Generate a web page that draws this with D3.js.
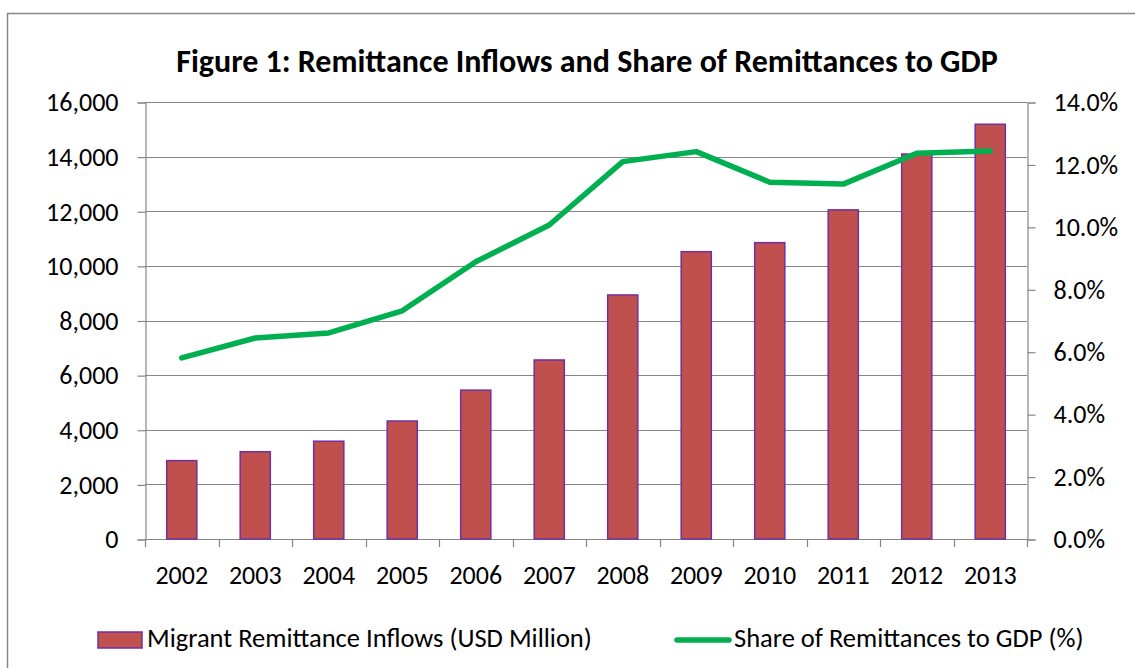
<!DOCTYPE html>
<html>
<head>
<meta charset="utf-8">
<script src="https://cdn.jsdelivr.net/npm/d3@7"></script>
<style>
  body { margin: 0; background: #fff; }
  svg text { font-family: Carlito, Calibri, Lato, sans-serif; fill: #000; }
</style>
</head>
<body>
<svg id="chart"></svg>
<script>
// chart data
const years = ["2002", "2003", "2004", "2005", "2006", "2007", "2008", "2009", "2010", "2011", "2012", "2013"];
const inflows = [2870, 3195, 3580, 4320, 5450, 6555, 8935, 10520, 10850, 12050, 14095, 15185];
const gdpShare = [5.80, 6.44, 6.60, 7.31, 8.88, 10.06, 12.09, 12.41, 11.43, 11.37, 12.36, 12.43];
const leftTicks = [0, 2000, 4000, 6000, 8000, 10000, 12000, 14000, 16000];
const rightTicks = [0, 2, 4, 6, 8, 10, 12, 14];

const title = "Figure 1: Remittance Inflows and Share of Remittances to GDP";
const barLabel = "Migrant Remittance Inflows (USD Million)";
const lineLabel = "Share of Remittances to GDP (%)";

const svgWidth = 1135, svgHeight = 668;
const plot = { left: 145, right: 1027, top: 102, bottom: 539 };
const gridColor = "#868686";
const fontFamily = "Carlito, Calibri, Lato, sans-serif";

const svg = d3.select("#chart")
    .attr("width", svgWidth)
    .attr("height", svgHeight);

// outer chart border
svg.append("rect")
    .attr("x", 7.5).attr("y", 13.5)
    .attr("width", 1200).attr("height", 700)
    .attr("fill", "#fff")
    .attr("stroke", gridColor)
    .attr("stroke-width", 1.5);

svg.append("text")
    .attr("x", 587).attr("y", 72)
    .attr("text-anchor", "middle")
    .attr("font-size", 32)
    .attr("font-weight", "bold")
    .text(title);

let x = d3.scaleBand()
    .domain(years)
    .range([plot.left, plot.right])
    .paddingInner(0.59)
    .paddingOuter(0.295);

let xCat = d3.scaleBand()
    .domain(years)
    .range([plot.left, plot.right]);

let yLeft = d3.scaleLinear()
    .domain([0, 16000])
    .range([plot.bottom, plot.top]);

let yRight = d3.scaleLinear()
    .domain([0, 14])
    .range([plot.bottom, plot.top]);

// gridlines
svg.append("g")
    .selectAll("line")
    .data(leftTicks)
    .join("line")
    .attr("x1", plot.left).attr("x2", plot.right)
    .attr("y1", d => Math.round(yLeft(d)) + 0.5)
    .attr("y2", d => Math.round(yLeft(d)) + 0.5)
    .attr("stroke", gridColor)
    .attr("stroke-width", 1.2);

// left axis
let leftAxis = svg.append("g")
    .attr("transform", "translate(" + (plot.left + 0.5) + ",0.5)")
    .call(d3.axisLeft(yLeft).tickValues(leftTicks).tickSize(8).tickPadding(19).tickFormat(d3.format(",")));
leftAxis.select(".domain").attr("stroke", gridColor).attr("stroke-width", 1.2);
leftAxis.selectAll(".tick line").attr("stroke", gridColor).attr("stroke-width", 1.2);
leftAxis.selectAll("text").attr("font-size", 26).style("font-family", fontFamily);

// right axis
let rightAxis = svg.append("g")
    .attr("transform", "translate(" + (plot.right + 0.5) + ",0.5)")
    .call(d3.axisRight(yRight).tickValues(rightTicks).tickSize(8).tickPadding(18).tickFormat(d => d.toFixed(1) + "%"));
rightAxis.select(".domain").attr("stroke", gridColor).attr("stroke-width", 1.2);
rightAxis.selectAll(".tick line").attr("stroke", gridColor).attr("stroke-width", 1.2);
rightAxis.selectAll("text").attr("font-size", 26).style("font-family", fontFamily);

// bottom axis, ticks at category boundaries
let bottom = svg.append("g");
bottom.append("line")
    .attr("x1", plot.left).attr("x2", plot.right)
    .attr("y1", plot.bottom + 0.5).attr("y2", plot.bottom + 0.5)
    .attr("stroke", gridColor).attr("stroke-width", 1.2);
bottom.selectAll(".cat-tick")
    .data(years.concat(["end"]))
    .join("line")
    .attr("class", "cat-tick")
    .attr("x1", (d, i) => Math.round(plot.left + i * xCat.step()) + 0.5)
    .attr("x2", (d, i) => Math.round(plot.left + i * xCat.step()) + 0.5)
    .attr("y1", plot.bottom)
    .attr("y2", plot.bottom + 8)
    .attr("stroke", gridColor).attr("stroke-width", 1.2);
bottom.selectAll("text")
    .data(years)
    .join("text")
    .attr("x", d => xCat(d) + xCat.bandwidth() / 2)
    .attr("y", 584)
    .attr("text-anchor", "middle")
    .attr("font-size", 26)
    .text(d => d);

// bars
svg.append("g")
    .selectAll("rect")
    .data(years)
    .join("rect")
    .attr("x", d => x(d))
    .attr("y", (d, i) => yLeft(inflows[i]))
    .attr("width", x.bandwidth())
    .attr("height", (d, i) => plot.bottom - yLeft(inflows[i]))
    .attr("fill", "#C0504D")
    .attr("stroke", "#7030A0")
    .attr("stroke-width", 1.5);

// share line
let line = d3.line()
    .x((d, i) => xCat(years[i]) + xCat.bandwidth() / 2)
    .y(d => yRight(d));

svg.append("path")
    .datum(gdpShare)
    .attr("fill", "none")
    .attr("stroke", "#00B050")
    .attr("stroke-width", 5.5)
    .attr("stroke-linejoin", "round")
    .attr("stroke-linecap", "round")
    .attr("d", line);

// legend
let legend = svg.append("g");
legend.append("rect")
    .attr("x", 98).attr("y", 632)
    .attr("width", 44).attr("height", 16)
    .attr("fill", "#C0504D")
    .attr("stroke", "#7030A0")
    .attr("stroke-width", 1.5);
legend.append("text")
    .attr("x", 147).attr("y", 647)
    .attr("font-size", 26.5)
    .text(barLabel);
legend.append("line")
    .attr("x1", 677).attr("x2", 729)
    .attr("y1", 640).attr("y2", 640)
    .attr("stroke", "#00B050")
    .attr("stroke-width", 5.5)
    .attr("stroke-linecap", "round");
legend.append("text")
    .attr("x", 734).attr("y", 647)
    .attr("font-size", 26.5)
    .text(lineLabel);
</script>
</body>
</html>
